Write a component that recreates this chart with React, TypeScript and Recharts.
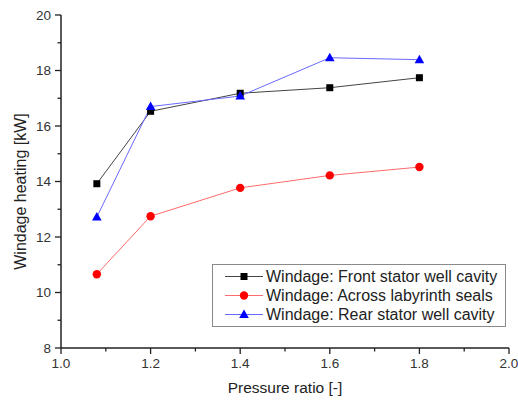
import React from 'react'
import { Legend, Line, LineChart, XAxis, YAxis } from 'recharts'

const pressureRatio = [1.08, 1.2, 1.4, 1.6, 1.8]
const frontStator = [13.92, 16.53, 17.18, 17.38, 17.74]
const labyrinth = [10.66, 12.75, 13.77, 14.22, 14.52]
const rearStator = [12.72, 16.7, 17.08, 18.46, 18.39]

const xTicks = [1.0, 1.1, 1.2, 1.3, 1.4, 1.5, 1.6, 1.7, 1.8, 1.9, 2.0]
const yTicks = [8, 9, 10, 11, 12, 13, 14, 15, 16, 17, 18, 19, 20]

const seriesNames = [
  'Windage: Front stator well cavity',
  'Windage: Across labyrinth seals',
  'Windage: Rear stator well cavity',
]

const FONT = '"Liberation Sans", Arial, sans-serif'

const data = pressureRatio.map((x, i) => ({
  x,
  front: frontStator[i],
  laby: labyrinth[i],
  rear: rearStator[i],
}))

const series = [
  { key: 'front', name: seriesNames[0], line: '#444444', marker: '#000000', shape: 'square' },
  { key: 'laby', name: seriesNames[1], line: '#ff6a6a', marker: '#ff0000', shape: 'circle' },
  { key: 'rear', name: seriesNames[2], line: '#6a6aff', marker: '#0000ff', shape: 'triangle' },
]

function Marker({ shape, color, cx, cy }: { shape: string; color: string; cx: number; cy: number }) {
  if (shape === 'square') return <rect x={cx - 3.5} y={cy - 3.5} width={7} height={7} fill={color} />
  if (shape === 'circle') return <circle cx={cx} cy={cy} r={4.2} fill={color} />
  return <polygon points={`${cx},${cy - 5} ${cx - 4.8},${cy + 3.5} ${cx + 4.8},${cy + 3.5}`} fill={color} />
}

function XTick(props: any) {
  const { x, y, payload } = props
  const v = payload.value as number
  const major = Math.round(v * 10) % 2 === 0
  return (
    <g>
      <line x1={x} y1={y} x2={x} y2={y + (major ? 6 : 3.5)} stroke="#222" strokeWidth={1.3} />
      {major && (
        <text x={x} y={y + 20} textAnchor="middle" fontSize={13.5} fill="#333" fontFamily={FONT}>
          {v.toFixed(1)}
        </text>
      )}
    </g>
  )
}

function YTick(props: any) {
  const { x, y, payload } = props
  const v = payload.value as number
  const major = v % 2 === 0
  return (
    <g>
      <line x1={x} y1={y} x2={x - (major ? 6 : 3.5)} y2={y} stroke="#222" strokeWidth={1.3} />
      {major && (
        <text x={x - 10} y={y} dy="0.36em" textAnchor="end" fontSize={13.5} fill="#333" fontFamily={FONT}>
          {v}
        </text>
      )}
    </g>
  )
}

function YTitle({ viewBox }: any) {
  // title sits a little below the plot centre, as in the source figure
  const cx = 20.5
  const cy = viewBox.y + viewBox.height / 2 + 10
  return (
    <text
      x={cx}
      y={cy}
      dy="0.36em"
      transform={`rotate(-90, ${cx}, ${cy})`}
      textAnchor="middle"
      fontSize={16}
      fill="#222"
      fontFamily={FONT}
    >
      Windage heating [kW]
    </text>
  )
}

function LegendBox() {
  return (
    <div
      style={{
        border: '1px solid #8a8a8a',
        background: '#fff',
        padding: '2px 0 2px 0',
        fontFamily: FONT,
        fontSize: 16,
        color: '#222',
        width: 294,
        boxSizing: 'border-box',
      }}
    >
      {series.map((s) => (
        <div key={s.key} style={{ display: 'flex', alignItems: 'center', height: 19 }}>
          <svg width={53} height={19} style={{ flex: 'none' }}>
            <line x1={12} y1={9.5} x2={50} y2={9.5} stroke={s.line} strokeWidth={1} />
            <Marker shape={s.shape} color={s.marker} cx={31} cy={9.5} />
          </svg>
          <span style={{ whiteSpace: 'nowrap', lineHeight: '19px' }}>{s.name}</span>
        </div>
      ))}
    </div>
  )
}

export default function App() {
  return (
    <div style={{ position: 'absolute', left: 0, top: 0, background: '#fff' }}>
      <LineChart width={518} height={401} data={data} margin={{ top: 15, right: 9, left: 16, bottom: 3 }}>
        <XAxis
          dataKey="x"
          type="number"
          domain={[1, 2]}
          ticks={xTicks}
          interval={0}
          height={50}
          tickSize={0}
          tickMargin={0}
          tick={<XTick />}
          axisLine={{ stroke: '#222', strokeWidth: 1.5 }}
          label={{
            value: 'Pressure ratio [-]',
            position: 'insideBottom',
            offset: 5,
            style: { fontSize: 15.5, fill: '#222', fontFamily: FONT },
          }}
        />
        <YAxis
          type="number"
          domain={[8, 20]}
          ticks={yTicks}
          interval={0}
          width={45}
          tickSize={0}
          tickMargin={0}
          tick={<YTick />}
          axisLine={{ stroke: '#222', strokeWidth: 1.5 }}
          label={{ content: (p: any) => <YTitle viewBox={p.viewBox} /> }}
        />
        {series.map((s) => (
          <Line
            key={s.key}
            dataKey={s.key}
            name={s.name}
            type="linear"
            stroke={s.line}
            strokeWidth={1}
            isAnimationActive={false}
            dot={(p: any) => <Marker key={`${s.key}-${p.index}`} shape={s.shape} color={s.marker} cx={p.cx} cy={p.cy} />}
            activeDot={false}
          />
        ))}
        <Legend
          layout="vertical"
          align="center"
          verticalAlign="middle"
          content={() => <LegendBox />}
          wrapperStyle={{ position: 'absolute', left: 212, top: 264, width: 294 }}
        />
      </LineChart>
    </div>
  )
}
